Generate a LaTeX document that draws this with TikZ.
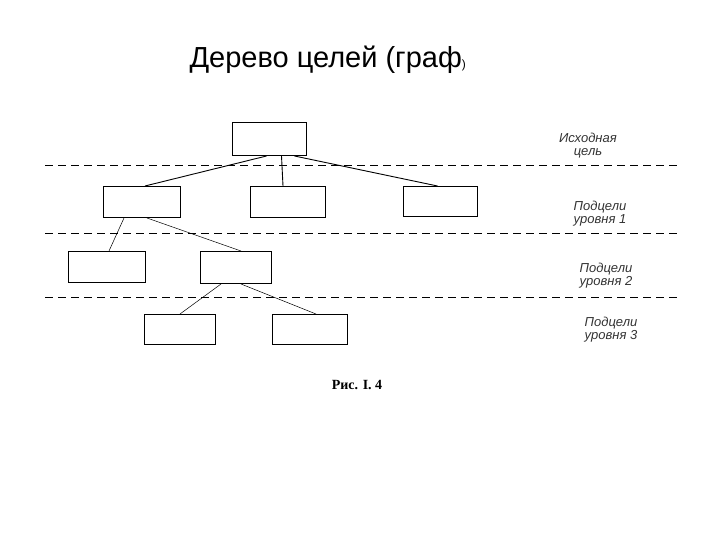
\documentclass[tikz,border=0pt]{standalone}
\usepackage{fontspec}
\setmainfont{Liberation Sans}
\newfontfamily\capfont{Liberation Serif}
\begin{document}
\begin{tikzpicture}[x=1pt,y=-1pt,
  box/.style={draw,line width=1pt,minimum width=#1,minimum height=31pt,inner sep=0pt,anchor=north west},
  box/.default=75pt,
  lvl/.style={draw,dashed,dash pattern=on 8pt off 5pt,line width=0.9pt},
  con/.style={line width=0.9pt},
  thin con/.style={line width=0.5pt},
  lab/.style={font=\itshape\fontsize{13}{13}\selectfont,align=center,text=black!80,inner sep=0pt}]
\useasboundingbox (0,0) rectangle (720,540);
\node[anchor=west,font=\fontsize{29}{32}\selectfont] (title) at (186,60) {Дерево целей (граф\raisebox{-1pt}{\fontsize{12}{12}\selectfont)}};
\node[box=74pt,minimum height=33pt] (r) at (232,122) {};
\node[box=77pt] (a) at (103,186) {};
\node[box=75pt] (b) at (250,186) {};
\node[box=74pt,minimum height=30pt] (c) at (403,186) {};
\node[box=77pt] (d) at (68,251) {};
\node[box=71pt,minimum height=32pt] (e) at (200,251) {};
\node[box=71pt,minimum height=30pt] (f) at (144,314) {};
\node[box=75pt,minimum height=30pt] (g) at (272,314) {};
\coordinate (l1s) at (45,165); \coordinate (l1e) at (680,165);
\coordinate (l2s) at (45,233); \coordinate (l2e) at (680,233);
\coordinate (l3s) at (45,297); \coordinate (l3e) at (680,297);
\draw[lvl] (l1s) -- (l1e);
\draw[lvl] (l2s) -- (l2e);
\draw[lvl] (l3s) -- (l3e);
\draw[con] ([xshift=-3pt]r.south) -- ([xshift=3pt]a.north);
\draw[con] ([xshift=12pt]r.south) -- ([xshift=-5pt]b.north);
\draw[con] ([xshift=25pt]r.south) -- ([xshift=-3pt]c.north);
\draw[thin con] ([xshift=-18pt]a.south) -- ([xshift=2pt]d.north);
\draw[thin con] ([xshift=5pt]a.south) -- ([xshift=5pt]e.north);
\draw[thin con] ([xshift=-15pt]e.south) -- ([xshift=0pt]f.north);
\draw[thin con] ([xshift=5pt]e.south) -- ([xshift=6pt]g.north);
\node[lab] (t1) at (588,146) {Исходная\\цель};
\node[lab] (t2) at (600,214) {Подцели\\уровня 1};
\node[lab] (t3) at (606,276) {Подцели\\уровня 2};
\node[lab] (t4) at (611,330) {Подцели\\уровня 3};
\node[font=\capfont\bfseries\fontsize{14}{16}\selectfont] (cap) at (357,385) {Рис. I. 4};
\end{tikzpicture}
\end{document}
